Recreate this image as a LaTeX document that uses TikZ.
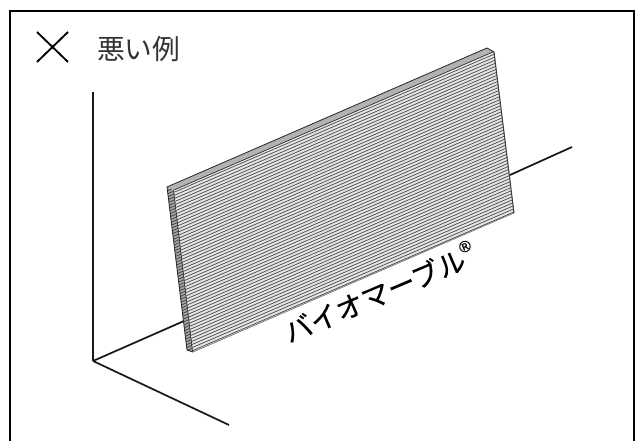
\documentclass[tikz,border=0pt]{standalone}
\usepackage{fontspec}
\newfontfamily\jpfont{Noto Sans CJK JP}
\newfontfamily\jpbold[FakeBold=0.5]{Noto Sans CJK JP}
\newfontfamily\regfont[FakeBold=0.6]{Liberation Sans}
\tikzset{
  axisline/.style={line width=1.3pt, black!90},
  framebox/.style={line width=1.8pt, black},
  hatchline/.style={line width=0.55pt, black!70},
  edgeline/.style={line width=0.6pt, black!85},
}
\begin{document}
\begin{tikzpicture}[x=0.75pt,y=-0.75pt]
\useasboundingbox (0,0) rectangle (644,441);
\fill[white] (0,0) rectangle (644,441);
% frame
\draw[framebox] (10,441) -- (10,11) -- (634,11) -- (634,441);
% cross and title
\draw[line width=1.4pt] (37,32) -- (68,62) (68,32) -- (37,62);
\node[anchor=west,inner sep=0pt,font=\jpfont\fontsize{20.8}{22}\selectfont,text=black!80] (title) at (97,49) {悪い例};
% axes
\draw[axisline] (93,92) -- (93,361);
\draw[axisline] (93,361) -- (229,425);
\draw[axisline] (93,361) -- (184,321);
\draw[axisline] (510,175) -- (572,147);
% panel: top face
\fill[black!30] (167,187) -- (487,48) -- (494,52) -- (174,190.5) -- cycle;
\draw[edgeline] (167,187) -- (487,48) -- (494,52);
\draw[line width=1.1pt,black!90] (174,190.5) -- (494,52);
% panel: side face
\fill[black!35] (167,187) -- (174,190.5) -- (193,352) -- (187,350) -- cycle;
\begin{scope}
\clip (167,187) -- (174,190.5) -- (193,352) -- (187,350) -- cycle;
\foreach \k in {0,...,60} \draw[line width=0.55pt,black!75] (160,185+\k*3) -- (200,168+\k*3);
\end{scope}
\draw[edgeline] (167,187) -- (187,350) -- (193,352);
\draw[line width=1pt,black!90] (174,190.5) -- (193,352);
% panel: front face hatching
\begin{scope}
\clip (174,190.5) -- (494,52) -- (514,213) -- (193,352) -- cycle;
\fill[black!10] (174,52) rectangle (514,352);
\foreach \k in {0,...,110} \draw[hatchline] (170,194+\k*3.2) -- (520,43+\k*3.2);
\end{scope}
\draw[line width=0.8pt,black!75] (494,52) -- (514,213);
\draw[line width=0.5pt,black!55] (514,213) -- (193,352);
% label
\node[rotate=23,inner sep=0pt,font=\jpbold\fontsize{21}{22}\selectfont] (label) at (379,292) {バイオマーブル\hspace{-0.02em}\raisebox{0.55em}{\regfont\fontsize{12}{13}\selectfont ®}};
\end{tikzpicture}
\end{document}
